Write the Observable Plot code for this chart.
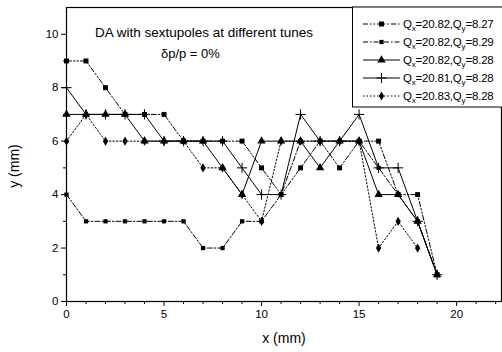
<!DOCTYPE html>
<html><head><meta charset="utf-8">
<script src="https://cdn.jsdelivr.net/npm/d3@7"></script>
<script src="https://cdn.jsdelivr.net/npm/@observablehq/plot@0.6"></script>
<style>body{margin:0;background:#fff} svg{display:block}</style>
</head><body><div id="chart"></div>
<script>
// x positions (mm)
const xMM = [0,1,2,3,4,5,6,7,8,9,10,11,12,13,14,15,16,17,18,19];
// y (mm) for each tune setting
const yQx2082Qy827 = [9,9,8,7,7,7,6,6,6,6,5,4,5,6,5,6,6,4,4,1];
const yQx2082Qy829 = [4,3,3,3,3,3,3,2,2,3,3,4,6,6,6,6,5,4,3,1];
const yQx2082Qy828 = [7,7,7,7,6,6,6,6,5,4,6,6,6,5,6,6,4,4,3,1];
const yQx2081Qy828 = [8,7,7,7,7,6,6,6,6,5,4,4,7,6,6,7,5,5,3,1];
const yQx2083Qy828 = [6,7,6,6,6,6,6,5,5,4,3,6,6,6,6,6,2,3,2];
const labelsQx = ["20.82","20.82","20.82","20.81","20.83"];
const labelsQy = ["8.27","8.29","8.28","8.28","8.28"];
const xTicks = [0,5,10,15,20];
const xMinor = [1,2,3,4,6,7,8,9,11,12,13,14,16,17,18,19,21,22];
const yTicks = [0,2,4,6,8,10];
const yMinor = [1,3,5,7,9];
const titleText = "DA with sextupoles at different tunes";
const subtitleText = "δp/p = 0%";

const styles = [
  {dash: "5,2,1.5,2,1.5,2", symbol: "square", r: 2.8, filled: true},
  {dash: "5,2,1.5,2", symbol: "square", r: 2.4, filled: true},
  {dash: null, symbol: "triangle", r: 3.1, filled: true},
  {dash: null, symbol: "plus", r: 3.4, filled: false},
  {dash: "1.5,2", symbol: "diamond", r: 2.8, filled: true}
];
const allY = [yQx2082Qy827, yQx2082Qy829, yQx2082Qy828, yQx2081Qy828, yQx2083Qy828];
const seriesData = allY.map((ys, i) => ys.map((y, j) => ({x: xMM[j], y, s: i})));

const W = 502, H = 352, ML = 66, MR = 1, MT = 7, MB = 51;
const font = "'Liberation Sans', Arial, sans-serif";

const marks = [
  Plot.axisX(xTicks, {tickSize: 5, tickPadding: 3, fontSize: 11.5, label: null, stroke: "#000"}),
  Plot.axisX(xMinor, {tickSize: 3, tickFormat: () => "", label: null, stroke: "#000"}),
  Plot.axisY(yTicks, {tickSize: 5, tickPadding: 3, fontSize: 11.5, label: null, stroke: "#000"}),
  Plot.axisY(yMinor, {tickSize: 3, tickFormat: () => "", label: null, stroke: "#000"})
];
seriesData.forEach((d, i) => {
  const st = styles[i];
  const lo = {x: "x", y: "y", stroke: "#000", strokeWidth: 1};
  if (st.dash) lo.strokeDasharray = st.dash;
  marks.push(Plot.line(d, lo));
});
seriesData.forEach((d, i) => {
  const st = styles[i];
  marks.push(Plot.dot(d, st.filled
    ? {x: "x", y: "y", symbol: st.symbol, r: st.r, fill: "#000", stroke: "none"}
    : {x: "x", y: "y", symbol: st.symbol, r: st.r, fill: "none", stroke: "#000", strokeWidth: 1}));
});
marks.push(Plot.text([titleText], {x: 7.05, y: 10.07, text: d => d, fontSize: 13.5, fill: "#000"}));
marks.push(Plot.text([subtitleText], {x: 6.35, y: 9.27, text: d => d, fontSize: 13, fill: "#000"}));
marks.push(Plot.frame({stroke: "#000", strokeWidth: 1.2}));

const plot = Plot.plot({
  width: W, height: H, marginLeft: ML, marginRight: MR, marginTop: MT, marginBottom: MB,
  style: {fontFamily: font, fontSize: "11.5px", color: "#000", background: "#fff", overflow: "visible"},
  x: {domain: [0, 22.3]},
  y: {domain: [0, 11]},
  marks
});
document.getElementById("chart").appendChild(plot);

const svg = d3.select(plot);
// axis titles
svg.append("text").attr("x", 284).attr("y", 343).attr("text-anchor", "middle")
  .attr("font-family", font).attr("font-size", 14).attr("fill", "#000").text("x (mm)");
svg.append("text").attr("transform", "translate(19,166) rotate(-90)").attr("text-anchor", "middle")
  .attr("font-family", font).attr("font-size", 14).attr("fill", "#000").text("y (mm)");

// legend
const lg = svg.append("g").attr("text-anchor", "start");
lg.append("rect").attr("x", 352.5).attr("y", 7).attr("width", 160).attr("height", 100)
  .attr("fill", "#fff").attr("stroke", "#000").attr("stroke-width", 1);
const rowY = [24, 42, 60, 78, 96];
const symMap = {square: d3.symbolSquare, triangle: d3.symbolTriangle, plus: d3.symbolPlus, diamond: d3.symbolDiamond};
styles.forEach((st, i) => {
  const yy = rowY[i];
  const ln = lg.append("line").attr("x1", 363).attr("x2", 400).attr("y1", yy).attr("y2", yy)
    .attr("stroke", "#000").attr("stroke-width", 1);
  if (st.dash) ln.attr("stroke-dasharray", st.dash);
  const p = lg.append("path").attr("transform", `translate(381.5,${yy})`)
    .attr("d", d3.symbol(symMap[st.symbol], Math.PI * st.r * st.r)());
  if (st.filled) p.attr("fill", "#000"); else p.attr("fill", "none").attr("stroke", "#000");
  const t = lg.append("text").attr("x", 403).attr("y", yy + 4).attr("font-family", font)
    .attr("font-size", 11.5).attr("fill", "#000").attr("letter-spacing", -0.2)
    .attr("text-anchor", "start");
  t.append("tspan").text("Q");
  t.append("tspan").attr("font-size", 8).attr("dy", 3).text("x");
  t.append("tspan").attr("dy", -3).text("=" + labelsQx[i] + ",Q");
  t.append("tspan").attr("font-size", 8).attr("dy", 3).text("y");
  t.append("tspan").attr("dy", -3).text("=" + labelsQy[i]);
});
</script></body></html>
